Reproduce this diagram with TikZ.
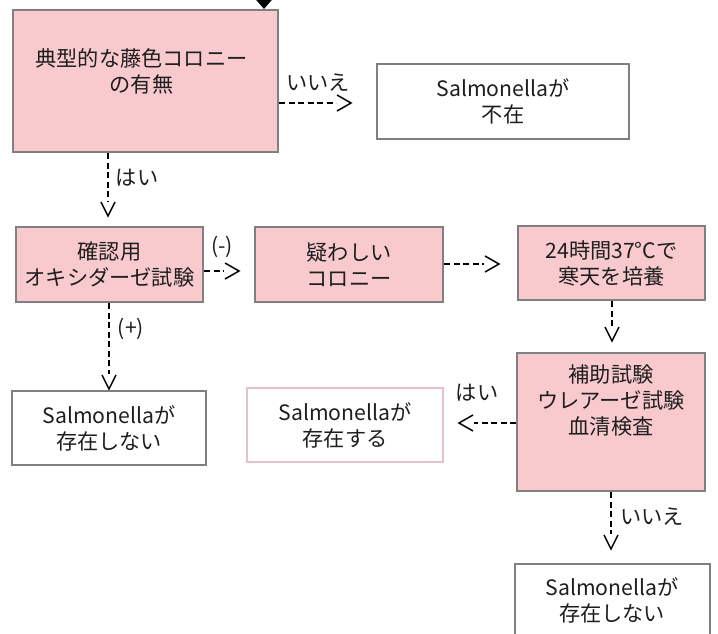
\documentclass[tikz,border=0pt]{standalone}
\usepackage{fontspec}
\setmainfont{Noto Sans CJK JP}
\usetikzlibrary{arrows.meta}
\definecolor{boxpink}{RGB}{248,202,206}
\definecolor{boxgray}{RGB}{128,128,128}
\definecolor{edgepink}{RGB}{230,194,208}
\definecolor{ink}{RGB}{30,30,30}
\begin{document}
\begin{tikzpicture}[x=1pt,y=-1pt,
  pinkbox/.style={draw=boxgray,line width=2pt,fill=boxpink,inner sep=0pt},
  whitebox/.style={draw=boxgray,line width=2pt,fill=white,inner sep=0pt},
  softbox/.style={draw=edgepink,line width=2pt,fill=white,inner sep=0pt},
  txt/.style={align=center,font=\fontsize{21.2}{26}\selectfont,text=ink,inner sep=0pt},
  flow/.style={draw=black,line width=1.4pt,dash pattern=on 6pt off 3.5pt,shorten >=15pt},
  chev/.style={draw=black,line width=1.5pt,solid,line join=miter,line cap=butt}
]
\useasboundingbox (0,0) rectangle (718,633);
\clip (0,0) rectangle (718,633);
\fill[white] (0,0) rectangle (718,633);

% boxes
\node[pinkbox,minimum width=265pt,minimum height=142pt] (b1) at (145.5,81) {};
\node[txt] (t1) at (141.5,71) {典型的な藤色コロニー\\の有無};
\node[whitebox,minimum width=252pt,minimum height=75pt,txt] (b2) at (503,101.5) {Salmonellaが\\不在};
\node[pinkbox,minimum width=187pt,minimum height=75pt,txt] (b3) at (109.5,264.5) {確認用\\オキシダーゼ試験};
\node[pinkbox,minimum width=188pt,minimum height=75pt,txt] (b4) at (349,264.5) {疑わしい\\コロニー};
\node[pinkbox,minimum width=187pt,minimum height=74pt,txt] (b5) at (611.5,263) {24時間37°Cで\\寒天を培養};
\node[pinkbox,minimum width=188pt,minimum height=138pt] (b6) at (611,422) {};
\node[txt] (t6) at (611,400) {補助試験\\ウレアーゼ試験\\血清検査};
\node[softbox,minimum width=196pt,minimum height=74pt,txt] (b7) at (345,425) {Salmonellaが\\存在する};
\node[whitebox,minimum width=194pt,minimum height=74pt,txt] (b8) at (109,428) {Salmonellaが\\存在しない};
\node[whitebox,minimum width=195pt,minimum height=86pt] (b9) at (612.5,607) {};
\node[txt] (t9) at (612,600) {Salmonellaが\\存在しない};

% labels
\node[txt] (l1) at (318,83) {いいえ};
\node[txt] (l2) at (137,178) {はい};
\node[txt] (l3) at (222,247) {(-)};
\node[txt] (l4) at (131,329) {(+)};
\node[txt] (l5) at (477,393) {はい};
\node[txt] (l6) at (652,517) {いいえ};

% connectors
\coordinate (e0) at (264,-30);
\draw[line width=3pt,-{Triangle[length=9pt,width=15pt]}] (e0) -- (b1.north -| e0);

\coordinate (e1) at (351,103);
\draw[flow] (b1.east |- e1) -- (e1);
\draw[chev] ([shift={(-14,-8)}]e1) -- (e1) -- ([shift={(-14,8)}]e1);

\coordinate (e2) at (108,216);
\draw[flow] (b1.south -| e2) -- (e2);
\draw[chev] ([shift={(-7,-14)}]e2) -- (e2) -- ([shift={(7,-14)}]e2);

\coordinate (e3) at (239,271);
\draw[flow] (b3.east |- e3) -- (e3);
\draw[chev] ([shift={(-14,-8)}]e3) -- (e3) -- ([shift={(-14,8)}]e3);

\coordinate (e4) at (499,264);
\draw[flow] (b4.east |- e4) -- (e4);
\draw[chev] ([shift={(-14,-8)}]e4) -- (e4) -- ([shift={(-14,8)}]e4);

\coordinate (e5) at (612,341);
\draw[flow] (b5.south -| e5) -- (e5);
\draw[chev] ([shift={(-7,-14)}]e5) -- (e5) -- ([shift={(7,-14)}]e5);

\coordinate (e6) at (459,423);
\draw[flow] (b6.west |- e6) -- (e6);
\draw[chev] ([shift={(14,-8)}]e6) -- (e6) -- ([shift={(14,8)}]e6);

\coordinate (e7) at (109,389);
\draw[flow] (b3.south -| e7) -- (e7);
\draw[chev] ([shift={(-7,-14)}]e7) -- (e7) -- ([shift={(7,-14)}]e7);

\coordinate (e8) at (611,549);
\draw[flow] (b6.south -| e8) -- (e8);
\draw[chev] ([shift={(-7,-14)}]e8) -- (e8) -- ([shift={(7,-14)}]e8);
\end{tikzpicture}
\end{document}
